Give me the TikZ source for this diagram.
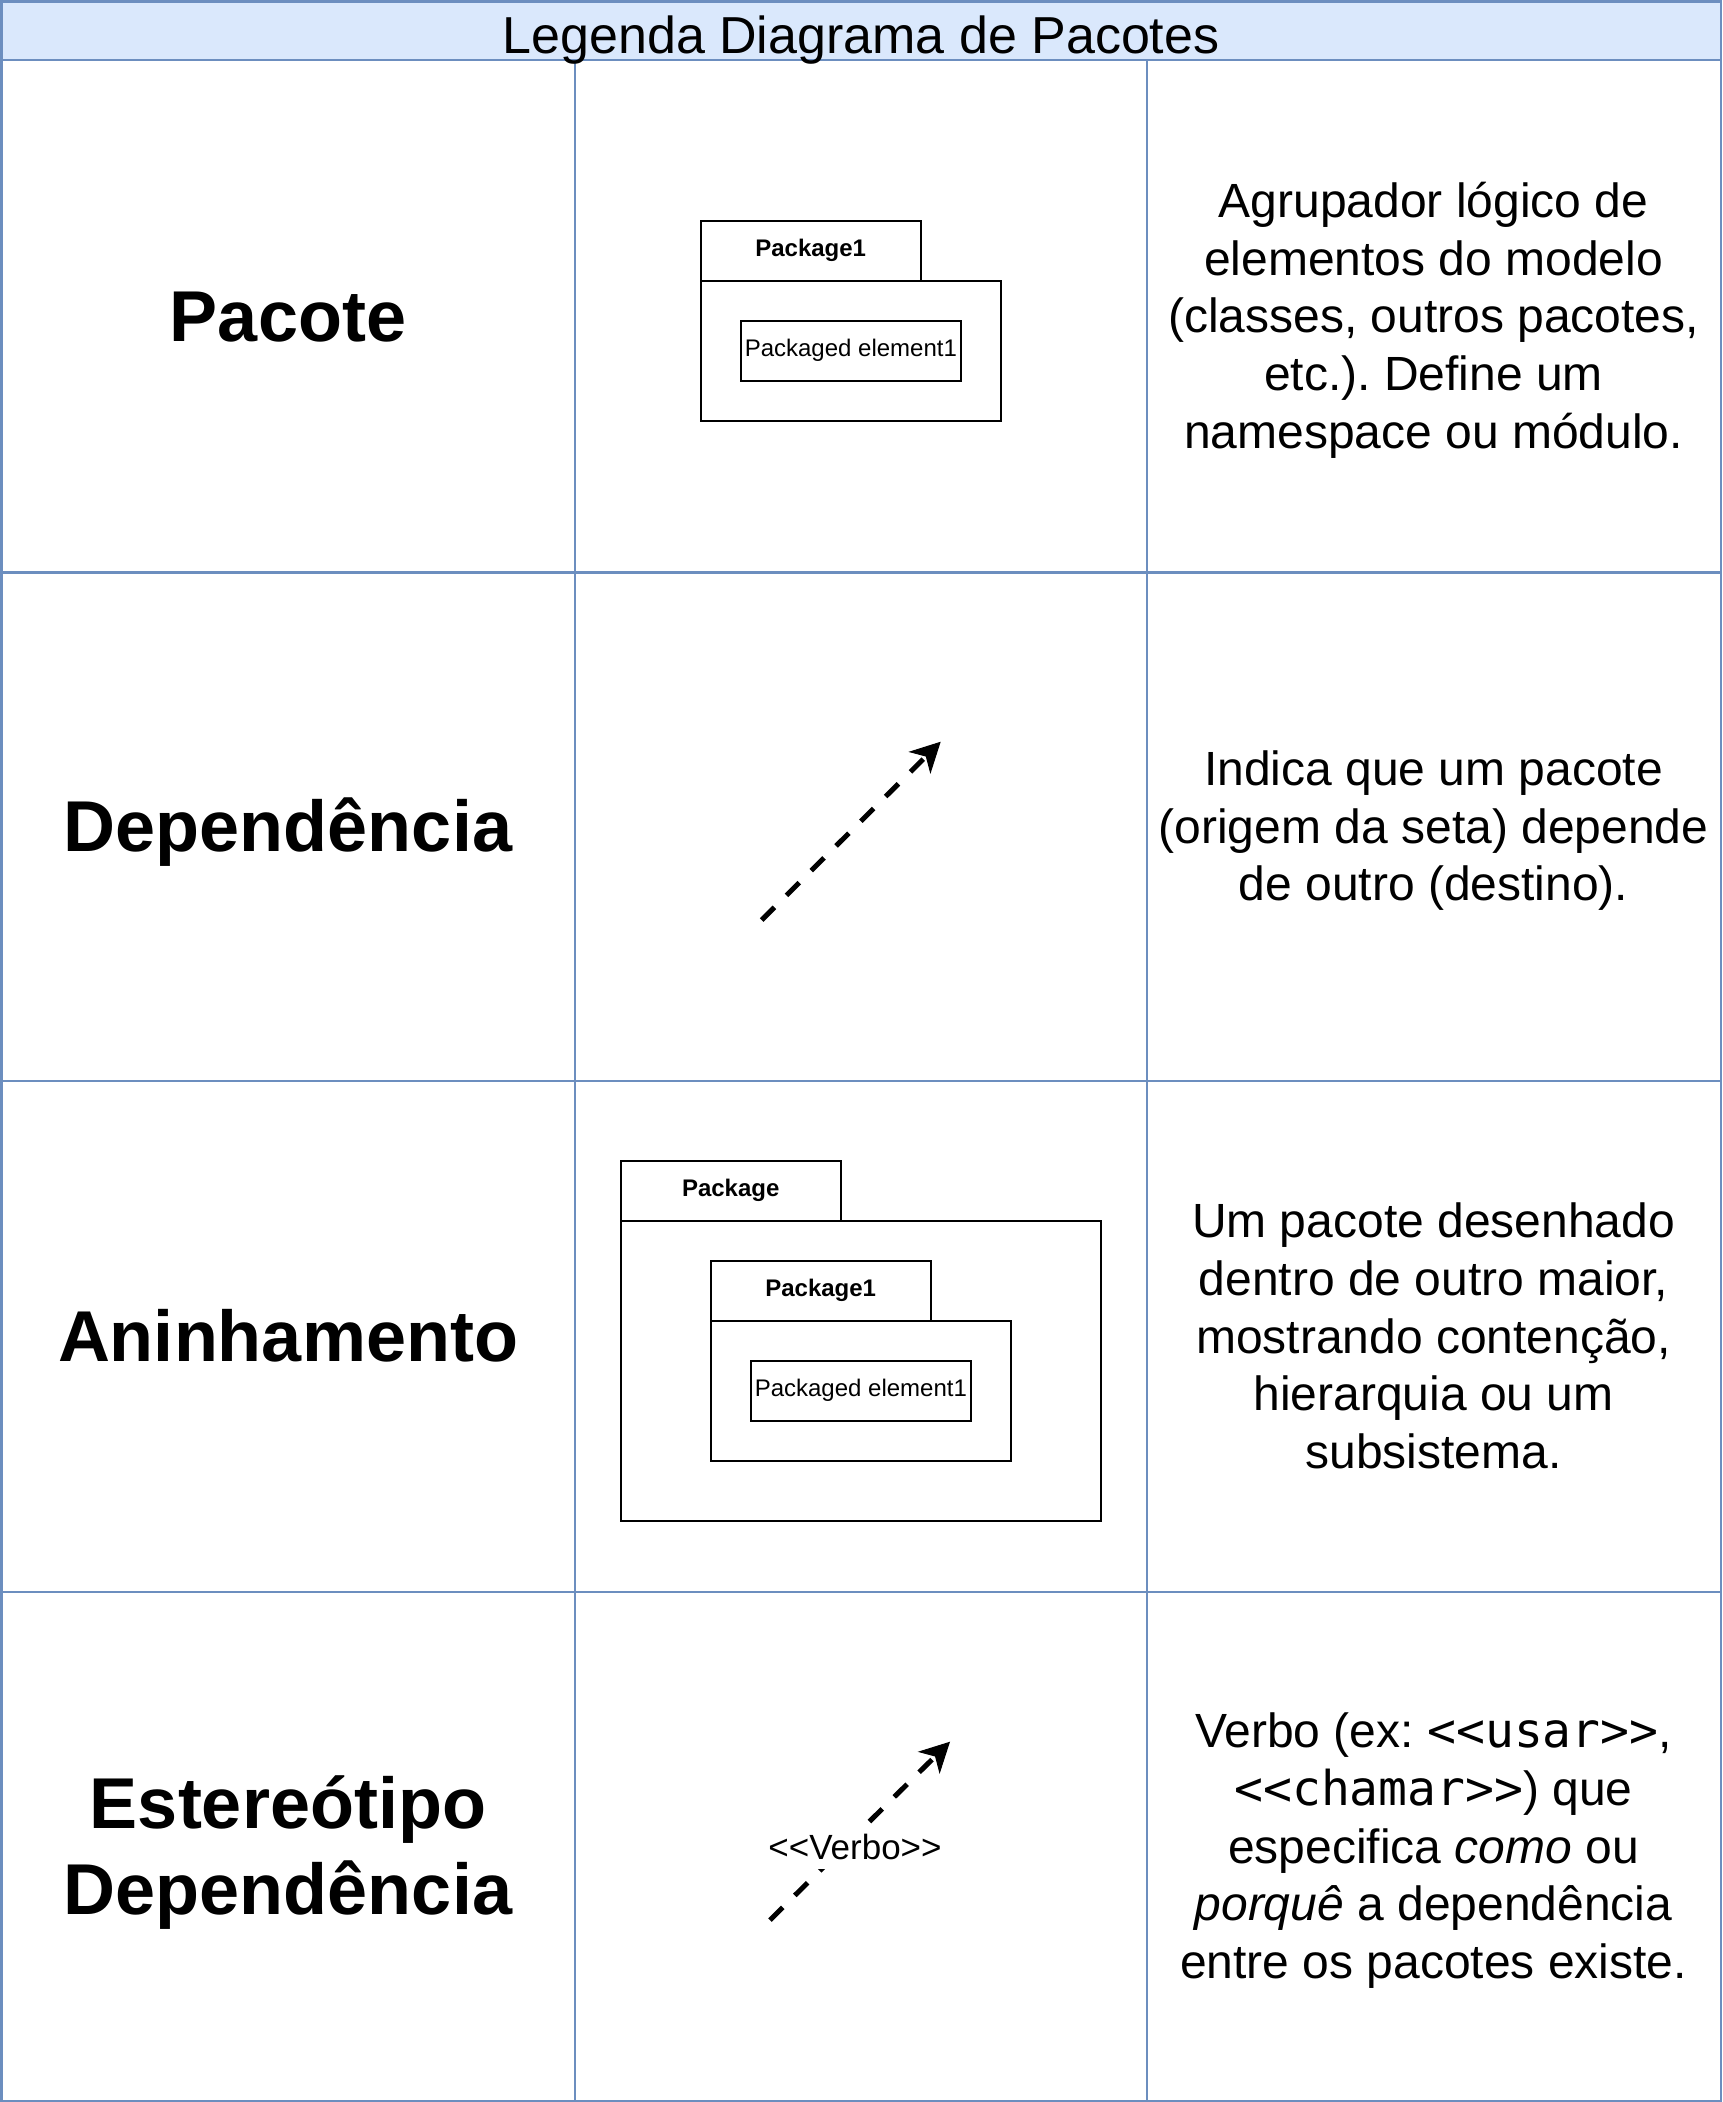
\documentclass[tikz,border=0pt]{standalone}
\usepackage{fontspec}
\setmainfont{Liberation Sans}
\newfontfamily\monofont{DejaVu Sans Mono}
\usetikzlibrary{arrows.meta}
\definecolor{gridblue}{HTML}{6C8EBF}
\definecolor{headfill}{HTML}{DAE8FC}
\newcommand\ls{\rule[-0.2535em]{0pt}{1.2em}}
\newcommand\mono[1]{{\monofont #1}}
\frenchspacing
\begin{document}
\begin{tikzpicture}[x=1pt,y=-1pt,
  gridline/.style={draw=gridblue, line width=2.5pt},
  lbl/.style={font=\fontsize{72}{86.4}\selectfont\bfseries, align=center, inner sep=0pt},
  desc/.style={font=\fontsize{48}{57.6}\selectfont, align=center, inner sep=0pt},
  pkgtab/.style={draw, line width=2pt, minimum width=220pt, minimum height=60pt, inner sep=0pt, font=\fontsize{24}{28.8}\selectfont\bfseries},
  pkgbody/.style={draw, line width=2pt, inner sep=0pt},
  elem/.style={draw, line width=2pt, minimum width=220.3pt, minimum height=60pt, inner sep=0pt, font=\fontsize{24}{28.8}\selectfont},
  deparrow/.style={line width=5pt, dash pattern=on 18pt off 17pt, -{Stealth[length=30pt,width=31pt,inset=9pt,line width=1pt]}}
]
\useasboundingbox (0,0) rectangle (1722,2102);
% grid
\draw[gridline, fill=headfill] (1.25,1.25) rectangle (1720.75,60);
\draw[gridline] (1.25,60) rectangle (1720.75,2100.75);
\draw[gridline] (575,60) -- (575,2100.75);
\draw[gridline] (1147,60) -- (1147,2100.75);
\draw[gridline] (1.25,572.5) -- (1720.75,572.5);
\draw[gridline] (1.25,1081) -- (1720.75,1081);
\draw[gridline] (1.25,1592) -- (1720.75,1592);
% title
\node[font=\fontsize{52}{62.4}\selectfont, anchor=base, inner sep=0pt] (title) at (861,53.3) {Legenda Diagrama de Pacotes};
% left labels
\node[lbl] (l1) at (288,316.25) {\ls Pacote};
\node[lbl] (l2) at (288,826.75) {\ls Dependência};
\node[lbl] (l3) at (288,1336.5) {\ls Aninhamento};
\node[lbl] (l4) at (288,1846.4) {\ls Estereótipo\\\ls Dependência};
% descriptions
\node[desc] (d1) at (1433.5,316.25) {\ls Agrupador lógico de\\\ls elementos do modelo\\\ls (classes, outros pacotes,\\\ls etc.). Define um\\\ls namespace ou módulo.};
\node[desc] (d2) at (1433.5,826.75) {\ls Indica que um pacote\\\ls (origem da seta) depende\\\ls de outro (destino).};
\node[desc] (d3) at (1433.5,1336.5) {\ls Um pacote desenhado\\\ls dentro de outro maior,\\\ls mostrando contenção,\\\ls hierarquia ou um\\\ls subsistema.};
\node[desc] (d4) at (1433.5,1846.4) {\ls Verbo (ex: \mono{<{}<usar>{}>},\\\ls\mono{<{}<chamar>{}>}) que\\\ls especifica \textit{como} ou\\\ls\textit{porquê} a dependência\\\ls entre os pacotes existe.};
% package (row 1)
\node[pkgbody, minimum width=300.3pt, minimum height=140pt] (b1) at (850.85,350.7) {};
\node[pkgtab] (t1) at (810.7,250.7) {Package1};
\node[elem] (e1) at (850.85,350.7) {Packaged element1};
% dependency (row 2)
\coordinate (dA) at (761.7,920);
\coordinate (dB) at (940.7,741.7);
\draw[deparrow] (dA) -- (dB);
% nesting (row 3)
\node[pkgbody, minimum width=480.3pt, minimum height=300pt] (ob) at (860.85,1370.7) {};
\node[pkgtab] (ot) at (730.7,1190.7) {Package};
\node[pkgbody, minimum width=300.3pt, minimum height=140pt] (ib) at (860.85,1390.7) {};
\node[pkgtab] (it) at (820.7,1290.7) {Package1};
\node[elem] (ie) at (860.85,1390.7) {Packaged element1};
% stereotyped dependency (row 4)
\coordinate (sA) at (770,1920);
\coordinate (sB) at (950,1741.7);
\draw[deparrow] (sA) -- (sB);
\node[fill=white, inner sep=0pt, font=\fontsize{35}{42}\selectfont] (vb) at (855,1847.5) {\ls <{}<Verbo>{}>};
\end{tikzpicture}
\end{document}
